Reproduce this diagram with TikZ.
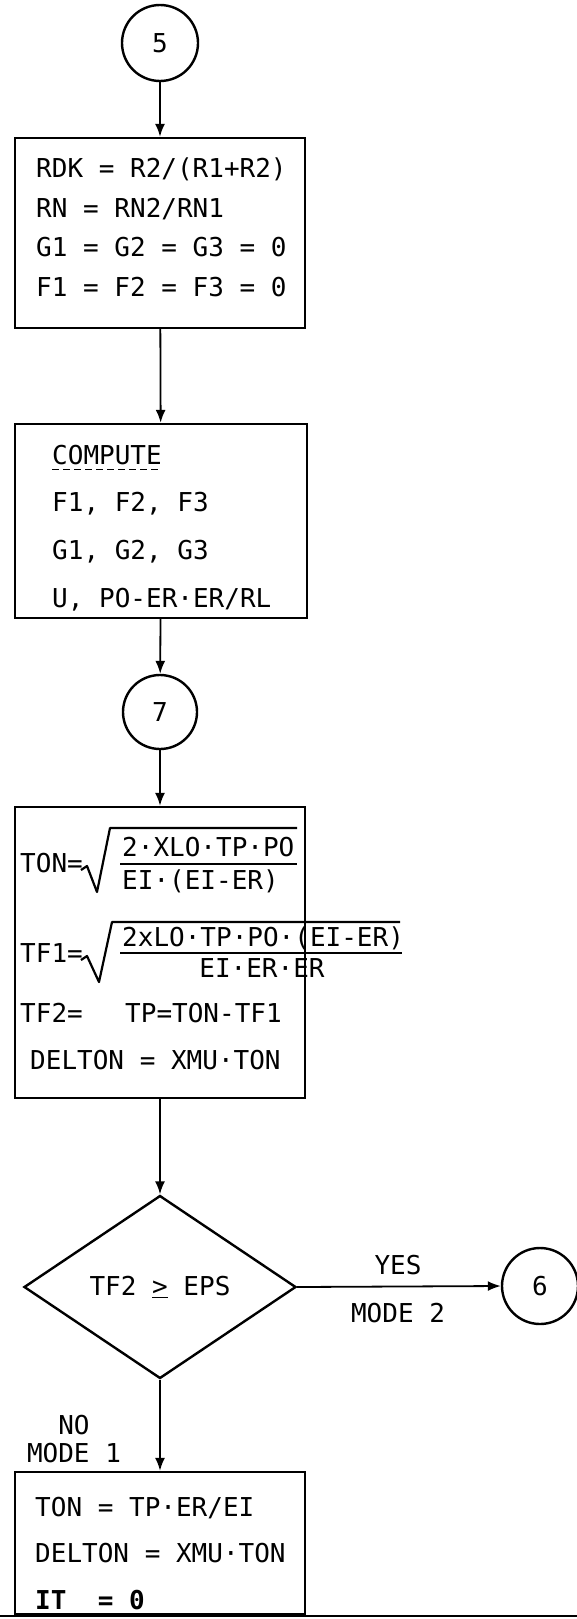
\documentclass[tikz,border=0pt]{standalone}
\usepackage{fontspec}
\setmainfont{DejaVu Sans Mono}
\usetikzlibrary{arrows.meta,shapes.geometric}
\begin{document}
\begin{tikzpicture}[x=1pt,y=-1pt,
  every node/.style={font=\fontsize{26}{30}\selectfont},
  box/.style={draw, line width=2.4pt, rectangle, inner sep=0pt, minimum width=290pt},
  conn/.style={draw, circle, line width=2.4pt, inner sep=0pt},
  txt/.style={anchor=base west, inner sep=0pt},
  ctxt/.style={anchor=base, inner sep=0pt},
  lbl/.style={inner sep=0pt},
  arr/.style={line width=1.8pt, -{Latex[length=13pt,width=10pt]}},
  rad/.style={line width=2.2pt, line join=round},
]
\useasboundingbox (0,0) rectangle (577,1619);

% connectors (circles)
\node[conn, minimum size=76pt] (c5) at (160,43) {5};
\node[conn, minimum size=74pt] (c7) at (160,712) {7};
\node[conn, minimum size=76pt] (c6) at (540,1286) {6};

% box 1
\node[box, minimum height=190pt] (b1) at (160,233) {};
\node[txt] (l11) at (36,177) {RDK = R2/(R1+R2)};
\node[txt] (l12) at (36,217) {RN = RN2/RN1};
\node[txt] (l13) at (36,256) {G1 = G2 = G3 = 0};
\node[txt] (l14) at (36,296) {F1 = F2 = F3 = 0};

% box 2
\node[box, minimum width=292pt, minimum height=194pt] (b2) at (161,521) {};
\node[txt] (cmp) at (52,464) {COMPUTE};
\draw[line width=1.5pt, dash pattern=on 7pt off 4pt] ([yshift=-5pt]cmp.south west) -- ([yshift=-5pt]cmp.south east);
\node[txt] (l22) at (52,511) {F1, F2, F3};
\node[txt] (l23) at (52,559) {G1, G2, G3};
\node[txt] (l24) at (52,607) {U, PO-ER·ER/RL};

% box 3
\node[box, minimum height=291pt] (b3) at (160,952.5) {};
\node[txt] (ton) at (20,872) {TON=};
\draw[rad] (81,870) -- (87,866) -- (97,892) -- (110,828) -- (297,828);
\node[txt] (tonn) at (122,856) {2·XLO·TP·PO};
\draw[line width=2pt] (120,864) -- (297,864);
\node[txt] (tond) at (122,889) {EI·(EI-ER)};
\node[txt] (tf1) at (20,962) {TF1=};
\draw[rad] (81,960) -- (87,956) -- (99,982) -- (112,922) -- (400,922);
\node[txt] (tf1n) at (122,946) {2xLO·TP·PO·(EI-ER)};
\draw[line width=2pt] (120,953) -- (402,953);
\node[ctxt] (tf1d) at (262,977) {EI·ER·ER};
\node[txt] (tf2) at (20,1022) {TF2=};
\node[txt] (tf2r) at (125,1022) {TP=TON-TF1};
\node[txt] (del) at (30,1069) {DELTON = XMU·TON};

% decision
\node[draw, diamond, line width=2.4pt, inner sep=0pt, minimum width=272pt, minimum height=183pt] (d) at (160,1287) {TF2 \underline{>} EPS};
\node[lbl] (yes) at (398,1265) {YES};
\node[lbl] (m2) at (398,1313) {MODE 2};
\node[lbl] (no) at (74,1425) {NO};
\node[lbl] (m1) at (74,1453) {MODE 1};

% box 4
\node[box, minimum height=142pt] (b4) at (160,1543) {};
\node[txt] (l41) at (35,1516) {TON = TP·ER/EI};
\node[txt] (l42) at (35,1562) {DELTON = XMU·TON};
\node[txt, font=\fontsize{26}{30}\selectfont\bfseries] (l43) at (35,1609) {IT\ \ = 0};
\coordinate (bl) at (0,1616);
\coordinate (br) at (577,1616);
\draw[line width=2.4pt] (bl) -- (br);

% arrows
\draw[arr] (c5) -- (b1);
\draw[arr] (b1) -- (b2);
\draw[arr] (b2) -- (c7);
\draw[arr] (c7) -- (b3);
\draw[arr] (b3) -- (d);
\draw[arr] (d.east) -- (c6.west);
\draw[arr] (d.south) -- (b4.north);
\end{tikzpicture}
\end{document}
